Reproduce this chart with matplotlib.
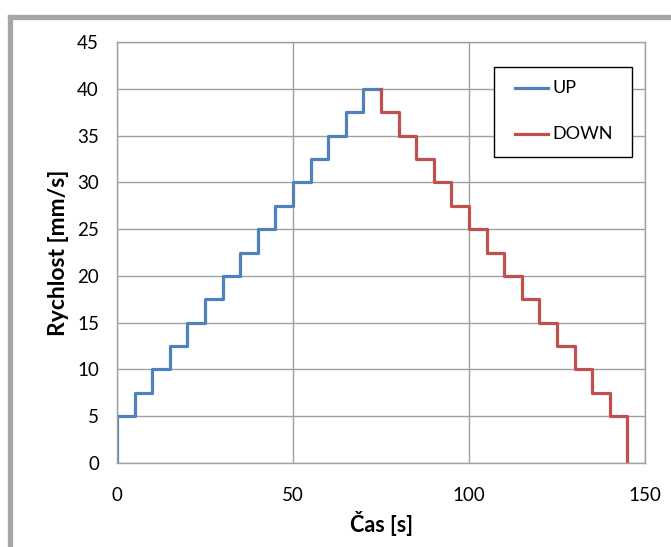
import numpy as np
import matplotlib
matplotlib.use("Agg")
import matplotlib.pyplot as plt
from matplotlib.lines import Line2D
from matplotlib.patches import Rectangle

plt.rcParams['font.family'] = ['Lato', 'DejaVu Sans']

# data (step profile of speed over time)
up_t = [0, 0, 5, 10, 15, 20, 25, 30, 35, 40, 45, 50, 55, 60, 65, 70, 75]
up_v = [0, 5, 7.5, 10, 12.5, 15, 17.5, 20, 22.5, 25, 27.5, 30, 32.5, 35, 37.5, 40, 40]
down_t = [75, 75, 80, 85, 90, 95, 100, 105, 110, 115, 120, 125, 130, 135, 140, 145]
down_v = [40, 37.5, 35, 32.5, 30, 27.5, 25, 22.5, 20, 17.5, 15, 12.5, 10, 7.5, 5, 0]
x_ticks = [0, 50, 100, 150]
y_ticks = [0, 5, 10, 15, 20, 25, 30, 35, 40, 45]
series_names = ["UP", "DOWN"]
series_colors = ["#4f81bd", "#c0504d"]

fig = plt.figure(figsize=(6.71, 5.47), dpi=100)
ax = fig.add_axes([117/671, 1 - 463/547, 528/671, 421/547])

grid_col = "#a0a0a0"
ax.plot(up_t, up_v, drawstyle="steps-post", color=series_colors[0], linewidth=2.3)
ax.plot(down_t, down_v, drawstyle="steps-post", color=series_colors[1], linewidth=2.3)

ax.set_xlim(0, 150)
ax.set_ylim(0, 45)
ax.set_xticks(x_ticks)
ax.set_yticks(y_ticks)
ax.grid(True, color=grid_col, linewidth=1)
ax.set_axisbelow(True)
for s in ax.spines.values():
    s.set_color(grid_col)
    s.set_linewidth(1)
ax.tick_params(length=0, labelsize=13.5, colors="black")
ax.tick_params(axis="x", pad=17)
ax.tick_params(axis="y", pad=13)

ax.set_xlabel("Čas [s]", fontsize=15.5, fontweight="bold", labelpad=5)
ax.set_ylabel("Rychlost [mm/s]", fontsize=16.5, fontweight="bold", labelpad=6)

# legend box drawn like the Excel one
ax.add_patch(Rectangle((0.714, 0.727), 0.261, 0.214, transform=ax.transAxes,
                       facecolor="white", edgecolor="black", linewidth=1.0, zorder=5, clip_on=False))
for name, col, yy in zip(series_names, series_colors, [0.891, 0.781]):
    ax.add_line(Line2D([0.754, 0.817], [yy, yy], color=col, linewidth=2.3,
                       transform=ax.transAxes, zorder=6))
    ax.text(0.824, yy, name, transform=ax.transAxes, fontsize=13, va="center", ha="left", zorder=6)

# gray frame of the pasted chart (top and left edges)
fig.add_artist(Line2D([10/671, 1], [1 - 16.5/547, 1 - 16.5/547], color="#a6a6a6", linewidth=3.8,
                      transform=fig.transFigure))
fig.add_artist(Line2D([10/671, 10/671], [0, 1 - 16.5/547], color="#a6a6a6", linewidth=3.8,
                      transform=fig.transFigure))

fig.savefig("out.png", dpi=100)
